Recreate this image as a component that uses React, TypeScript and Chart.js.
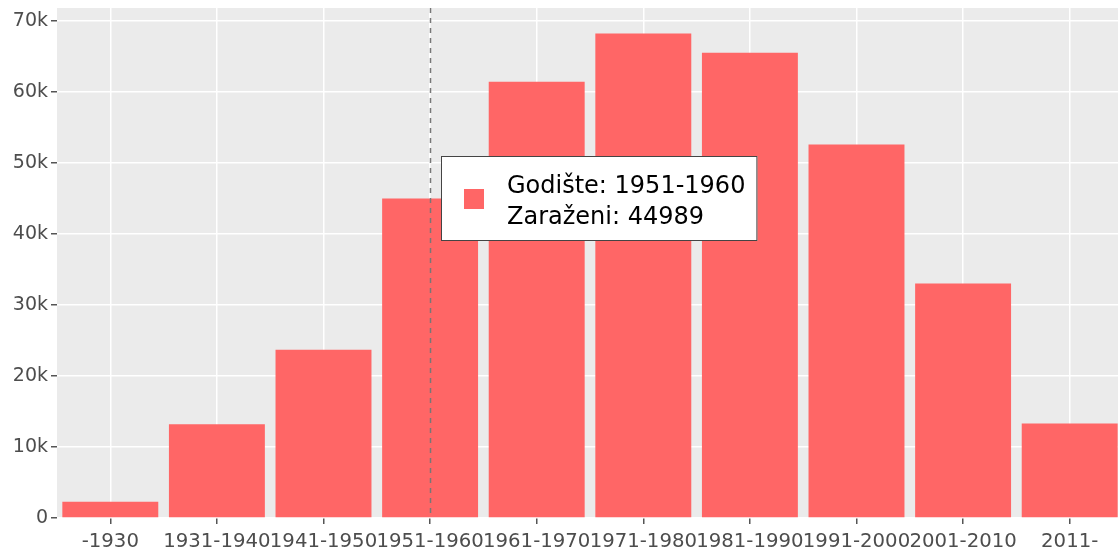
import React, { useEffect, useRef } from "react";
import { Chart, registerables } from "chart.js";

Chart.register(...registerables);

const categories = ["-1930", "1931-1940", "1941-1950", "1951-1960", "1961-1970", "1971-1980", "1981-1990", "1991-2000", "2001-2010", "2011-"];
const infected = [2300, 13200, 23700, 44989, 61400, 68200, 65500, 52600, 33000, 13300];
const yTicks = [0, 10000, 20000, 30000, 40000, 50000, 60000, 70000];
const hoverIndex = 3;
const hoverLabels = ["Godište", "Zaraženi"];

const BAR = "#FF6666";
const FONT = "'DejaVu Sans', Verdana, sans-serif";

const hoverPlugin = {
  id: "hoverBox",
  afterDatasetsDraw(chart: any) {
    const { ctx, chartArea } = chart;
    const el = chart.getDatasetMeta(0).data[hoverIndex];
    if (!el) return;
    ctx.save();
    ctx.strokeStyle = "#777";
    ctx.lineWidth = 1.5;
    ctx.setLineDash([5, 5]);
    ctx.beginPath();
    ctx.moveTo(Math.round(el.x) + 0.5, chartArea.top);
    ctx.lineTo(Math.round(el.x) + 0.5, chartArea.bottom);
    ctx.stroke();
    ctx.setLineDash([]);

    const lines = [
      `${hoverLabels[0]}: ${categories[hoverIndex]}`,
      `${hoverLabels[1]}: ${infected[hoverIndex]}`,
    ];
    ctx.font = `24px ${FONT}`;
    const tw = Math.max(...lines.map((l) => ctx.measureText(l).width));
    const bx = Math.round(el.x) + 11;
    const bw = 66 + tw + 12;
    const bh = 85;
    const by = Math.round(el.y - bh / 2);
    ctx.fillStyle = "#FFFFFF";
    ctx.fillRect(bx, by, bw, bh);
    ctx.strokeStyle = "#444";
    ctx.lineWidth = 1;
    ctx.strokeRect(bx + 0.5, by + 0.5, bw - 1, bh - 1);
    ctx.fillStyle = BAR;
    ctx.fillRect(bx + 23, by + 33, 20, 20);
    ctx.fillStyle = "#000";
    ctx.textBaseline = "alphabetic";
    ctx.textAlign = "left";
    ctx.fillText(lines[0], bx + 66, by + 37);
    ctx.fillText(lines[1], bx + 66, by + 68);
    ctx.restore();
  },
};

export default function App() {
  const ref = useRef<HTMLCanvasElement>(null);
  useEffect(() => {
    if (!ref.current) return;
    const chart = new Chart(ref.current, {
      type: "bar",
      data: {
        labels: categories,
        datasets: [
          {
            data: infected,
            backgroundColor: BAR,
            borderWidth: 0,
            barPercentage: 0.9,
            categoryPercentage: 1,
          },
        ],
      },
      options: {
        animation: false,
        responsive: false,
        maintainAspectRatio: false,
        layout: { padding: { top: 8, left: 0, right: 0, bottom: 0 } },
        plugins: { legend: { display: false }, tooltip: { enabled: false } },
        events: [],
        scales: {
          x: {
            grid: { color: "#FFFFFF", lineWidth: 1.5, tickColor: "#555", tickLength: 6, offset: false },
            border: { display: false },
            ticks: {
              color: "#4D4D4D",
              font: { family: FONT, size: 19.7 },
              padding: 6,
              maxRotation: 0,
              autoSkip: false,
            },
            afterFit(scale: any) {
              scale.height = 36;
              scale.paddingLeft = 0;
              scale.paddingRight = 0;
            },
          },
          y: {
            min: 0,
            max: 71800,
            grid: { color: "#FFFFFF", lineWidth: 1.5, tickColor: "#555", tickLength: 6 },
            border: { display: false },
            ticks: {
              color: "#4D4D4D",
              font: { family: FONT, size: 19 },
              padding: 3,
              autoSkip: false,
              callback: (v: any) => (v === 0 ? "0" : `${v / 1000}k`),
            },
            afterBuildTicks(scale: any) {
              scale.ticks = yTicks.map((v) => ({ value: v }));
            },
            afterFit(scale: any) {
              scale.width = 57;
              scale.paddingTop = 0;
              scale.paddingBottom = 0;
            },
          },
        },
      },
      plugins: [
        {
          id: "bg",
          beforeDraw(chart: any) {
            const { ctx, chartArea } = chart;
            ctx.save();
            ctx.fillStyle = "#EBEBEB";
            ctx.fillRect(chartArea.left, chartArea.top, chartArea.right - chartArea.left, chartArea.bottom - chartArea.top);
            ctx.restore();
          },
        },
        hoverPlugin,
      ],
    } as any);
    return () => chart.destroy();
  }, []);
  return (
    <div style={{ position: "absolute", left: 0, top: 0, width: 1118, height: 554, overflow: "hidden", background: "#fff" }}>
      <canvas ref={ref} width={1123} height={554} style={{ display: "block", width: 1123, height: 554 }} />
    </div>
  );
}
